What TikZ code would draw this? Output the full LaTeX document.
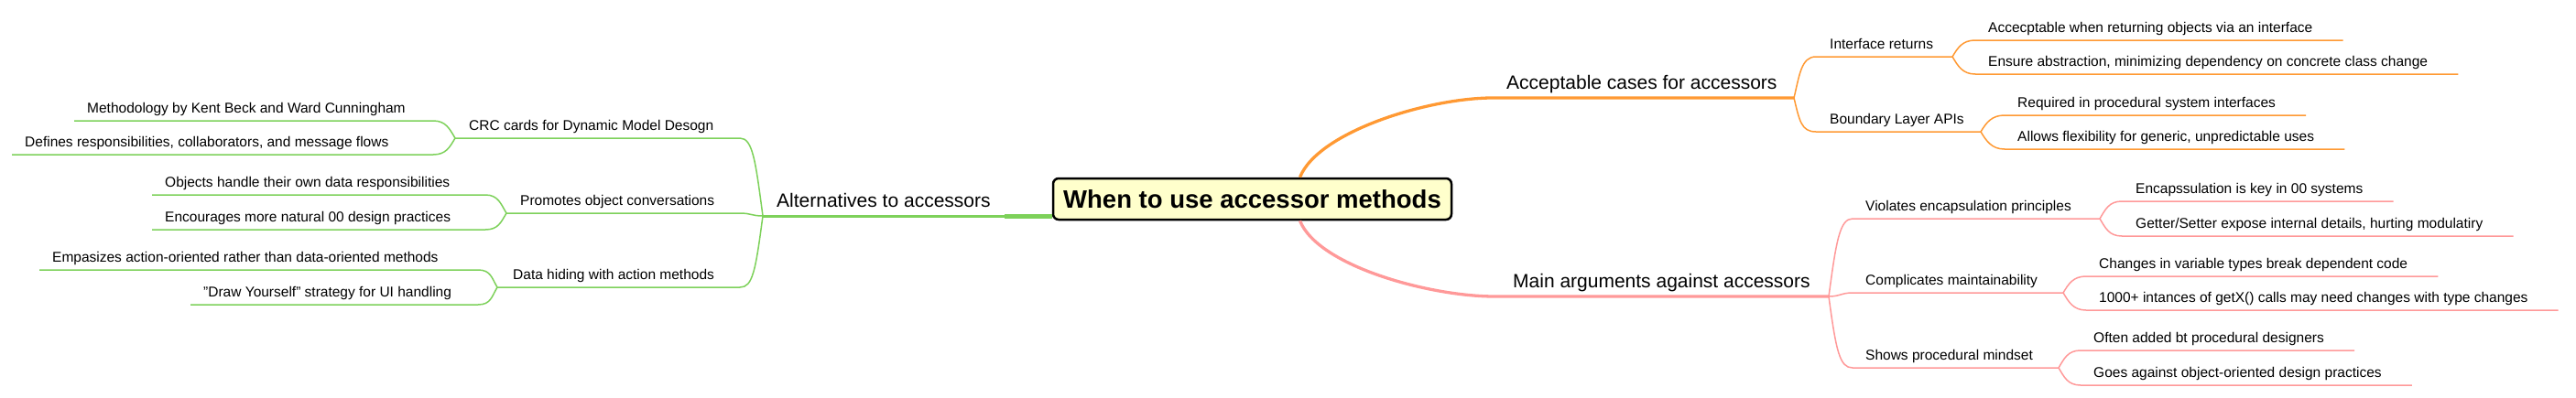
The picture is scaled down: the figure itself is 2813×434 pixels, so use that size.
\documentclass[tikz,border=0pt]{standalone}
\usepackage{fontspec}
\setmainfont{Liberation Sans}
\usetikzlibrary{calc}
\definecolor{altgreen}{RGB}{125,209,90}
\definecolor{accorange}{RGB}{255,153,51}
\definecolor{argpink}{RGB}{255,153,153}
\definecolor{rootfill}{RGB}{255,255,204}
\tikzset{
  rootbox/.style={draw=black, line width=2.5pt, fill=rootfill, rounded corners=6pt,
    minimum width=435pt, minimum height=45pt, inner sep=0pt,
    font=\bfseries\fontsize{27.5}{30}\selectfont},
  topic/.style={font=\fontsize{21}{25}\selectfont, inner sep=0pt, anchor=south west,
    text height=15pt, text depth=9pt},
  leaf/.style={font=\fontsize{15.5}{18}\selectfont, inner sep=0pt, anchor=south west,
    text height=11.5pt, text depth=8pt},
  twig/.style={line width=1.5pt},
  bough/.style={line width=3pt}
}
\begin{document}
\begin{tikzpicture}[x=1pt,y=-1pt]
\useasboundingbox (0,0) rectangle (2813,434);

\node[rootbox] (root) at (1367.5,217.5) {When to use accessor methods};

\node[topic] (alt) at (848,236) {Alternatives to accessors};
\node[leaf] (crc) at (512,151) {CRC cards for Dynamic Model Desogn};
\node[leaf] (meth) at (95,132) {Methodology by Kent Beck and Ward Cunningham};
\node[leaf] (defs) at (27,169) {Defines responsibilities, collaborators, and message flows};
\node[leaf] (prom) at (568,233) {Promotes object conversations};
\node[leaf] (objs) at (180,213) {Objects handle their own data responsibilities};
\node[leaf] (enco) at (180,251) {Encourages more natural 00 design practices};
\node[leaf] (hide) at (560,314) {Data hiding with action methods};
\node[leaf] (emph) at (57,295) {Empasizes action-oriented rather than data-oriented methods};
\node[leaf] (drws) at (222,333) {"Draw Yourself" strategy for UI handling};

\node[topic] (acc) at (1645,107) {Acceptable cases for accessors};
\node[leaf] (intr) at (1998,62) {Interface returns};
\node[leaf] (bnd) at (1998,144) {Boundary Layer APIs};
\node[leaf] (accr) at (2171,44) {Accecptable when returning objects via an interface};
\node[leaf] (ensr) at (2171,81) {Ensure abstraction, minimizing dependency on concrete class change};
\node[leaf] (reqd) at (2203,126) {Required in procedural system interfaces};
\node[leaf] (alws) at (2203,163) {Allows flexibility for generic, unpredictable uses};

\node[topic] (args) at (1652,324) {Main arguments against accessors};
\node[leaf] (viol) at (2037,239) {Violates encapsulation principles};
\node[leaf] (comp) at (2037,320) {Complicates maintainability};
\node[leaf] (show) at (2037,402) {Shows procedural mindset};
\node[leaf] (encp) at (2332,220) {Encapssulation is key in 00 systems};
\node[leaf] (gtst) at (2332,258) {Getter/Setter expose internal details, hurting modulatiry};
\node[leaf] (chng) at (2292,302) {Changes in variable types break dependent code};
\node[leaf] (thou) at (2292,339) {1000+ intances of getX() calls may need changes with type changes};
\node[leaf] (oftn) at (2286,383) {Often added bt procedural designers};
\node[leaf] (goes) at (2286,421) {Goes against object-oriented design practices};

\coordinate (jAlt) at (833,236);
\coordinate (altR) at (808,0);
\coordinate (jCrc) at (497,151);
\coordinate (crcR) at (473,0);
\coordinate (jProm) at (553,233);
\coordinate (promR) at (530,0);
\coordinate (jHide) at (543,314);
\coordinate (hideR) at (522,0);
\coordinate (jAcc) at (1959,107);
\coordinate (jInt) at (2132,62);
\coordinate (jBnd) at (2163,144);
\coordinate (jArgs) at (1997,324);
\coordinate (jViol) at (2293,239);
\coordinate (jComp) at (2253,320);
\coordinate (jShow) at (2248,402);

\draw[bough, altgreen] (jAlt) -- (root.west |- jAlt);
\draw[altgreen, line width=5pt] ($(root.west |- jAlt)+(-52,0)$) -- (root.west |- jAlt);
\draw[twig, altgreen] (jAlt) .. controls +(-8,-60) and +(14,0) .. (crc.south -| altR) -- (jCrc);
\draw[twig, altgreen] (jAlt) .. controls +(-12,0) and +(12,0) .. (prom.south -| altR) -- (jProm);
\draw[twig, altgreen] (jAlt) .. controls +(-8,60) and +(14,0) .. (hide.south -| altR) -- (jHide);
\draw[twig, altgreen] (jCrc) .. controls +(-6,-10) and +(14,0) .. (meth.south -| crcR) -- ([xshift=-14pt]meth.south west);
\draw[twig, altgreen] (jCrc) .. controls +(-6,10) and +(14,0) .. (defs.south -| crcR) -- ([xshift=-14pt]defs.south west);
\draw[twig, altgreen] (jProm) .. controls +(-6,-10) and +(14,0) .. (objs.south -| promR) -- ([xshift=-14pt]objs.south west);
\draw[twig, altgreen] (jProm) .. controls +(-6,10) and +(14,0) .. (enco.south -| promR) -- ([xshift=-14pt]enco.south west);
\draw[twig, altgreen] (jHide) .. controls +(-6,-10) and +(14,0) .. (emph.south -| hideR) -- ([xshift=-14pt]emph.south west);
\draw[twig, altgreen] (jHide) .. controls +(-6,10) and +(14,0) .. (drws.south -| hideR) -- ([xshift=-14pt]drws.south west);

\draw[bough, accorange, line width=3.3pt] ([xshift=52pt]root.north) .. controls +(20,-50) and +(-70,0) .. ([xshift=-15pt]acc.south west) -- (jAcc);
\draw[twig, accorange] (jAcc) .. controls +(6,-25) and +(-16,0) .. ([xshift=-15pt]intr.south west) -- (jInt);
\draw[twig, accorange] (jAcc) .. controls +(6,25) and +(-16,0) .. ([xshift=-15pt]bnd.south west) -- (jBnd);
\draw[twig, accorange] (jInt) .. controls +(6,-10) and +(-14,0) .. ([xshift=-14pt]accr.south west) -- ([xshift=33pt]accr.south east);
\draw[twig, accorange] (jInt) .. controls +(6,10) and +(-14,0) .. ([xshift=-14pt]ensr.south west) -- ([xshift=33pt]ensr.south east);
\draw[twig, accorange] (jBnd) .. controls +(6,-10) and +(-14,0) .. ([xshift=-14pt]reqd.south west) -- ([xshift=33pt]reqd.south east);
\draw[twig, accorange] (jBnd) .. controls +(6,10) and +(-14,0) .. ([xshift=-14pt]alws.south west) -- ([xshift=33pt]alws.south east);

\draw[bough, argpink, line width=3.3pt] ([xshift=52pt]root.south) .. controls +(20,50) and +(-70,0) .. ([xshift=-20pt]args.south west) -- (jArgs);
\draw[twig, argpink] (jArgs) .. controls +(8,-60) and +(-14,0) .. ([xshift=-14pt]viol.south west) -- (jViol);
\draw[twig, argpink] (jArgs) .. controls +(12,0) and +(-12,0) .. ([xshift=-14pt]comp.south west) -- (jComp);
\draw[twig, argpink] (jArgs) .. controls +(8,60) and +(-14,0) .. ([xshift=-14pt]show.south west) -- (jShow);
\draw[twig, argpink] (jViol) .. controls +(6,-10) and +(-14,0) .. ([xshift=-15pt]encp.south west) -- ([xshift=33pt]encp.south east);
\draw[twig, argpink] (jViol) .. controls +(6,10) and +(-14,0) .. ([xshift=-15pt]gtst.south west) -- ([xshift=33pt]gtst.south east);
\draw[twig, argpink] (jComp) .. controls +(6,-10) and +(-14,0) .. ([xshift=-14pt]chng.south west) -- ([xshift=33pt]chng.south east);
\draw[twig, argpink] (jComp) .. controls +(6,10) and +(-14,0) .. ([xshift=-14pt]thou.south west) -- ([xshift=33pt]thou.south east);
\draw[twig, argpink] (jShow) .. controls +(6,-10) and +(-14,0) .. ([xshift=-14pt]oftn.south west) -- ([xshift=33pt]oftn.south east);
\draw[twig, argpink] (jShow) .. controls +(6,10) and +(-14,0) .. ([xshift=-14pt]goes.south west) -- ([xshift=33pt]goes.south east);
\end{tikzpicture}
\end{document}
